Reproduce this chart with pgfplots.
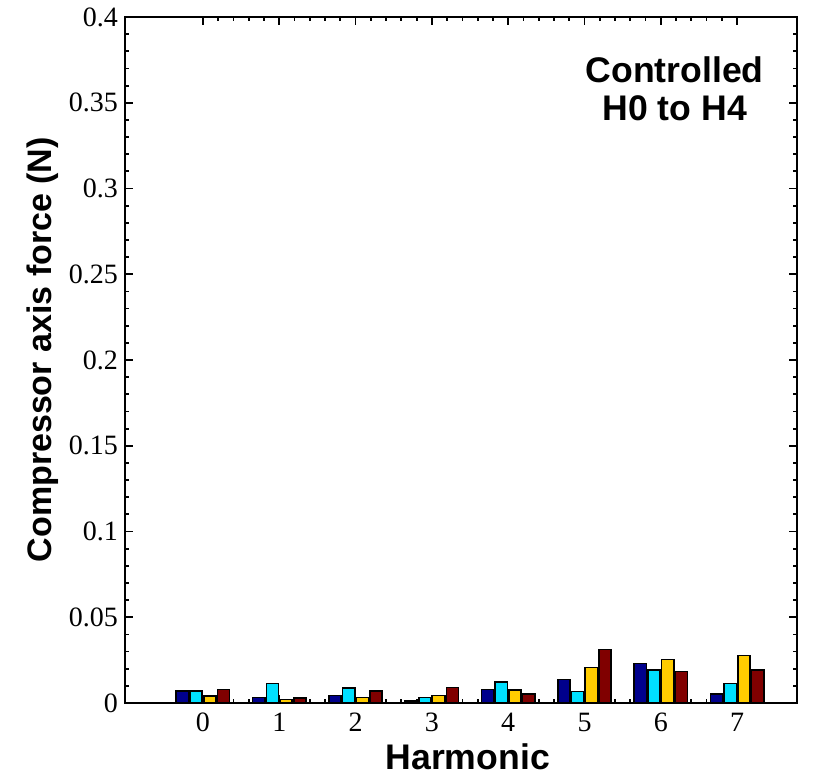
\documentclass[border=0pt]{standalone}
\usepackage{pgfplots}
\pgfplotsset{compat=1.18}
\usepackage{fontspec}
\setmainfont{Liberation Serif}
\newfontfamily\arialf{Liberation Sans}
\definecolor{cnavy}{RGB}{0,0,140}
\definecolor{ccyan}{RGB}{0,224,255}
\definecolor{cgold}{RGB}{255,204,0}
\definecolor{cred}{RGB}{128,0,0}
\begin{document}
\begin{tikzpicture}
\useasboundingbox (-62.5pt,-37.5pt) rectangle (346pt,351.5pt);
\begin{axis}[
  scale only axis,
  width=336pt, height=343pt,
  xmin=-1.022, xmax=7.785,
  ymin=0, ymax=0.4,
  xtick={0,1,2,3,4,5,6,7},
  minor x tick num=4,
  ytick={0,0.05,0.1,0.15,0.2,0.25,0.3,0.35,0.4},
  minor y tick num=4,
  scaled y ticks=false,
  yticklabel style={/pgf/number format/fixed,/pgf/number format/precision=2},
  /pgf/number format/assume math mode=true,
  tick label style={font=\fontsize{14}{14}\selectfont},
  tick align=inside,
  major tick length=4pt,
  minor tick length=2pt,
  every tick/.style={black, line width=0.9pt},
  axis line style={line width=1.4pt},
  xticklabel style={yshift=-1.5pt},
  xlabel={Harmonic},
  ylabel={Compressor axis force (N)},
  xlabel style={font=\arialf\bfseries\fontsize{17.8}{17.8}\selectfont, at={(rel axis cs:0.51,-0.079)}, anchor=center},
  ylabel style={font=\arialf\bfseries\fontsize{17}{17}\selectfont, at={(rel axis cs:-0.122,0.515)}, anchor=center},
]
\addplot[ybar, bar width=0.16, bar shift=-0.27, fill=cnavy, draw=black, line width=0.8pt]
 coordinates {(0,0.0069) (1,0.0032) (2,0.0044) (3,0.0010) (4,0.0078) (5,0.0136) (6,0.0231) (7,0.0054)};
\addplot[ybar, bar width=0.16, bar shift=-0.09, fill=ccyan, draw=black, line width=0.8pt]
 coordinates {(0,0.0069) (1,0.0114) (2,0.0089) (3,0.0032) (4,0.0124) (5,0.0066) (6,0.0194) (7,0.0113)};
\addplot[ybar, bar width=0.16, bar shift=0.09, fill=cgold, draw=black, line width=0.8pt]
 coordinates {(0,0.0042) (1,0.0020) (2,0.0032) (3,0.0044) (4,0.0076) (5,0.0206) (6,0.0253) (7,0.0276)};
\addplot[ybar, bar width=0.16, bar shift=0.27, fill=cred, draw=black, line width=0.8pt]
 coordinates {(0,0.0079) (1,0.0030) (2,0.0069) (3,0.0090) (4,0.0052) (5,0.0311) (6,0.0183) (7,0.0194)};
\node[anchor=north, align=center, font=\arialf\bfseries\fontsize{17.8}{19}\selectfont]
  at (rel axis cs:0.818,0.953) {Controlled\\H0 to H4};
\end{axis}
\end{tikzpicture}
\end{document}
